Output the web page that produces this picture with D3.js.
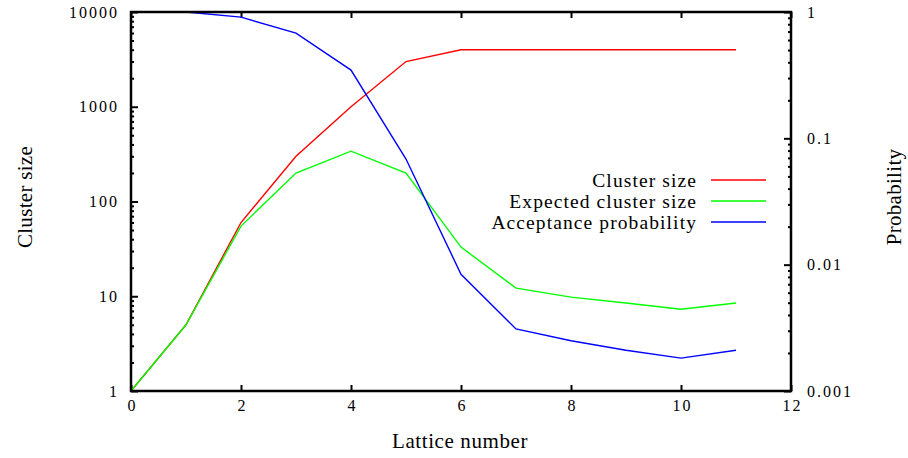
<!DOCTYPE html>
<html>
<head>
<meta charset="utf-8">
<script src="https://cdn.jsdelivr.net/npm/d3@7"></script>
<style>
  body { margin: 0; background: #fff; }
  text { font-family: "Liberation Serif", "DejaVu Serif", serif; fill: #000; }
</style>
</head>
<body>
<div id="chart"></div>
<script>
// values
let lattice = [0, 1, 2, 3, 4, 5, 6, 7, 8, 9, 10, 11]
let clusterSize = [1, 5, 60, 300, 1000, 3000, 4000, 4000, 4000, 4000, 4000, 4000]
let expectedSize = [1, 5, 55, 200, 340, 200, 33, 12.2, 9.8, 8.5, 7.3, 8.5]
let acceptance = [1, 1, 0.91, 0.68, 0.347, 0.0686, 0.0084, 0.0031, 0.0025, 0.0021, 0.00182, 0.0021]

let xTicks = [0, 2, 4, 6, 8, 10, 12]
let yLeftTicks = [1, 10, 100, 1000, 10000]
let yRightTicks = [0.001, 0.01, 0.1, 1]

let series = [
    { name: "Cluster size", values: clusterSize, color: "#ff0000", axis: "left" },
    { name: "Expected cluster size", values: expectedSize, color: "#00ff00", axis: "left" },
    { name: "Acceptance probability", values: acceptance, color: "#0000ff", axis: "right" }
]

let width = 908, height = 458
let margin = { left: 131, top: 12, right: 117, bottom: 67 }
let innerwidth = width - margin.left - margin.right
let innerheight = height - margin.top - margin.bottom

let svg = d3.select("#chart").append("svg")
    .attr("width", width)
    .attr("height", height)

let g = svg.append("g")
    .attr("transform", "translate(" + margin.left + "," + margin.top + ")")

let x = d3.scaleLinear().domain([0, 12]).range([0, innerwidth])
let yL = d3.scaleLog().domain([1, 10000]).range([innerheight, 0])
let yR = d3.scaleLog().domain([0.001, 1]).range([innerheight, 0])

// minor log ticks (2..9 of each decade)
function minorTicks(lo, hi) {
    let out = []
    for (let d = lo; d < hi; d *= 10) {
        for (let k = 2; k <= 9; k++) out.push(d * k)
    }
    return out
}

function styleAxis(sel) {
    sel.select(".domain").remove()
    sel.selectAll("line").attr("stroke", "#000").attr("stroke-width", 2)
    sel.selectAll("text")
        .style("font-size", "16px")
        .style("letter-spacing", "2px")
}

// bottom axis
g.append("g")
    .attr("transform", "translate(0," + innerheight + ")")
    .call(d3.axisBottom(x).tickValues(xTicks).tickSize(-6).tickPadding(9).tickFormat(d3.format("d")))
    .call(styleAxis)
    .selectAll("text").attr("dx", 1)
// top mirror ticks
g.append("g")
    .call(d3.axisTop(x).tickValues(xTicks).tickSize(-6).tickFormat(""))
    .call(styleAxis)

// left axis
g.append("g")
    .call(d3.axisLeft(yL).tickValues(yLeftTicks).tickSize(-7).tickPadding(12).tickFormat(d3.format("d")))
    .call(styleAxis)
g.append("g")
    .call(d3.axisLeft(yL).tickValues(minorTicks(1, 10000)).tickSize(-3).tickFormat(""))
    .call(styleAxis)

// right axis
g.append("g")
    .attr("transform", "translate(" + innerwidth + ",0)")
    .call(d3.axisRight(yR).tickValues(yRightTicks).tickSize(-7).tickPadding(16).tickFormat(d => d3.format("")(d)))
    .call(styleAxis)
g.append("g")
    .attr("transform", "translate(" + innerwidth + ",0)")
    .call(d3.axisRight(yR).tickValues(minorTicks(0.001, 1)).tickSize(-3).tickFormat(""))
    .call(styleAxis)

// lines
series.forEach(function(s) {
    let yScale = s.axis == "left" ? yL : yR
    let line = d3.line()
        .x((d, i) => x(lattice[i]))
        .y(d => yScale(d))
    g.append("path")
        .datum(s.values)
        .attr("fill", "none")
        .attr("stroke", s.color)
        .attr("stroke-width", 1.4)
        .attr("d", line)
})

// frame
g.append("rect")
    .attr("width", innerwidth)
    .attr("height", innerheight)
    .attr("fill", "none")
    .attr("stroke", "#000")
    .attr("stroke-width", 2.5)

// legend
let legend = g.append("g")
    .attr("transform", "translate(" + (697 - margin.left) + "," + (180 - margin.top) + ")")
series.forEach(function(s, i) {
    legend.append("text")
        .attr("x", 0)
        .attr("y", i * 21)
        .attr("dy", "0.35em")
        .attr("text-anchor", "end")
        .style("font-size", "19.5px")
        .style("letter-spacing", "1.1px")
        .text(s.name)
    legend.append("line")
        .attr("x1", 14)
        .attr("x2", 69)
        .attr("y1", i * 21)
        .attr("y2", i * 21)
        .attr("stroke", s.color)
        .attr("stroke-width", 1.4)
})

// axis titles
svg.append("text")
    .attr("x", 460)
    .attr("y", 448)
    .attr("text-anchor", "middle")
    .style("font-size", "21px")
    .style("letter-spacing", "0.6px")
    .text("Lattice number")
svg.append("text")
    .attr("transform", "translate(32,197) rotate(-90)")
    .attr("text-anchor", "middle")
    .style("font-size", "21px")
    .style("letter-spacing", "0.3px")
    .text("Cluster size")
svg.append("text")
    .attr("transform", "translate(901,197) rotate(-90)")
    .attr("text-anchor", "middle")
    .style("font-size", "21px")
    .style("letter-spacing", "0.3px")
    .text("Probability")
</script>
</body>
</html>
